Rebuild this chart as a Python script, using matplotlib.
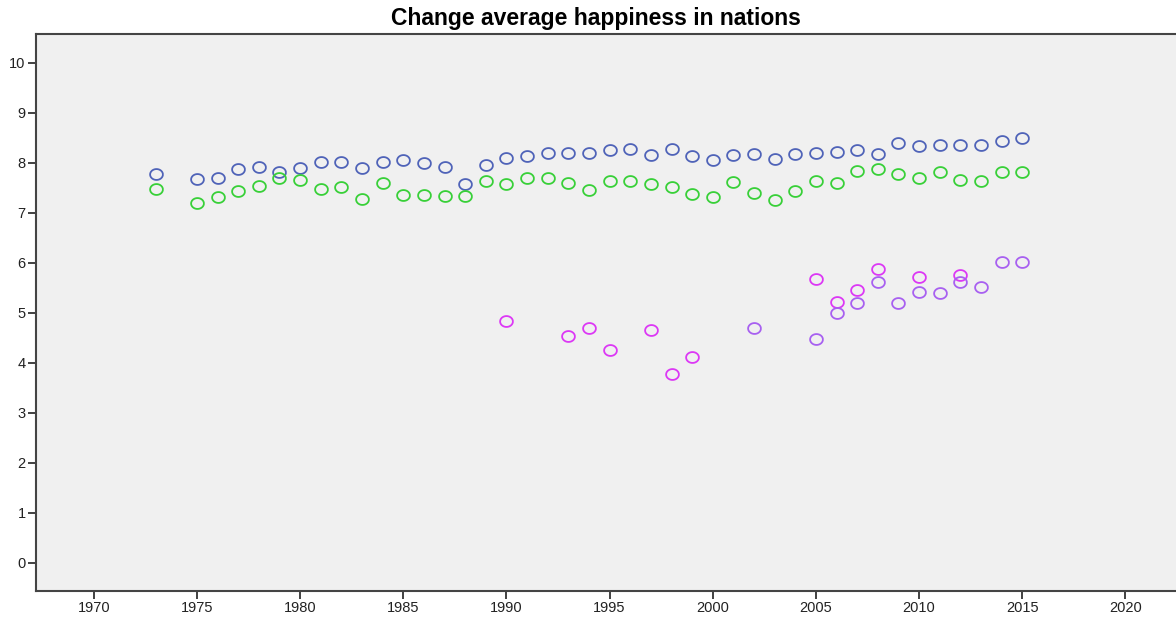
import numpy as np
import matplotlib.pyplot as plt

plt.rcParams['font.family'] = ['Liberation Sans', 'DejaVu Sans']

# values
years_a = [1973, 1975, 1976, 1977, 1978, 1979, 1980, 1981, 1982, 1983, 1984, 1985,
           1986, 1987, 1988, 1989, 1990, 1991, 1992, 1993, 1994, 1995, 1996, 1997,
           1998, 1999, 2000, 2001, 2002, 2003, 2004, 2005, 2006, 2007, 2008, 2009,
           2010, 2011, 2012, 2013, 2014, 2015]
blue = [7.77, 7.67, 7.69, 7.87, 7.91, 7.81, 7.89, 8.03, 8.01, 7.90, 8.01, 8.05,
        7.99, 7.92, 7.57, 7.95, 8.09, 8.14, 8.19, 8.19, 8.20, 8.26, 8.29, 8.15,
        8.28, 8.13, 8.06, 8.15, 8.18, 8.07, 8.18, 8.20, 8.21, 8.25, 8.17, 8.39,
        8.33, 8.36, 8.36, 8.35, 8.43, 8.50]
green = [7.47, 7.20, 7.32, 7.43, 7.54, 7.70, 7.65, 7.47, 7.51, 7.28, 7.59, 7.36,
         7.36, 7.33, 7.33, 7.63, 7.57, 7.69, 7.69, 7.59, 7.45, 7.64, 7.63, 7.57,
         7.52, 7.37, 7.32, 7.62, 7.39, 7.26, 7.44, 7.64, 7.60, 7.83, 7.88, 7.77,
         7.69, 7.82, 7.66, 7.64, 7.82, 7.81]

years_m = [1990, 1993, 1994, 1995, 1997, 1998, 1999, 2005, 2006, 2007, 2008, 2010, 2012]
magenta = [4.85, 4.53, 4.69, 4.26, 4.67, 3.79, 4.11, 5.67, 5.21, 5.47, 5.88, 5.71, 5.75]

years_v = [2002, 2005, 2006, 2007, 2008, 2009, 2010, 2011, 2012, 2013, 2014, 2015]
violet = [4.69, 4.49, 4.99, 5.19, 5.61, 5.19, 5.41, 5.40, 5.61, 5.52, 6.02, 6.01]

fig = plt.figure(figsize=(11.76, 6.22), dpi=100)
ax = fig.add_axes([36 / 1176, 31 / 622, 1 - 36 / 1176, 557 / 622])
ax.set_facecolor('#f0f0f0')

# slightly flattened open circle, like the SPSS markers
t = np.linspace(0, 2 * np.pi, 60)
oval = np.column_stack([np.cos(t), 0.85 * np.sin(t)])

mk = dict(marker=oval, linestyle='none', markersize=9.2, markerfacecolor='none',
          markeredgewidth=1.3)
ax.plot(years_a, blue, markeredgecolor='#4f63b8', **mk)
ax.plot(years_a, green, markeredgecolor='#38d038', **mk)
ax.plot(years_m, magenta, markeredgecolor='#dc38f5', **mk)
ax.plot(years_v, violet, markeredgecolor='#a860f0', **mk)

ax.set_xlim(1967.2, 2022.45)
ax.set_ylim(-0.56, 10.58)
ax.set_xticks(range(1970, 2021, 5))
ax.set_yticks(range(0, 11))
ax.tick_params(axis='both', labelsize=10.5, length=6, width=1.3, color='#333333',
               labelcolor='#222222', pad=1.5)
for side in ['left', 'bottom', 'top']:
    ax.spines[side].set_color('#444444')
    ax.spines[side].set_linewidth(1.5)
ax.spines['right'].set_visible(False)

fig.text(596 / 1176, 1 - 18 / 622, 'Change average happiness in nations',
         ha='center', va='center', fontsize=16.5, fontweight='bold')

fig.savefig('out.png', dpi=100)
